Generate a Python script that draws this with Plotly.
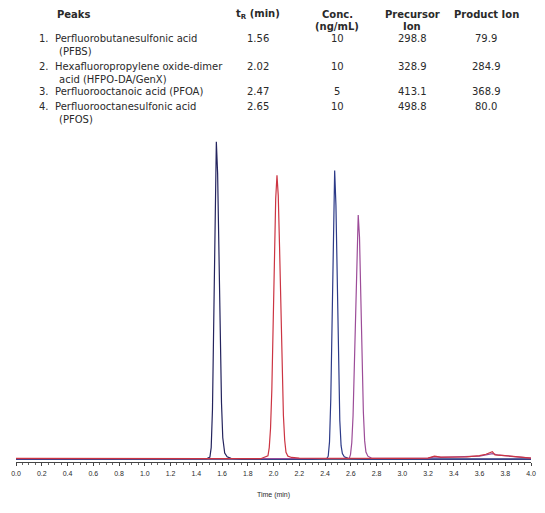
import plotly.graph_objects as go

# table shown above the chromatogram
peak_names = [
    ["Perfluorobutanesulfonic acid", "(PFBS)"],
    ["Hexafluoropropylene oxide-dimer", "acid (HFPO-DA/GenX)"],
    ["Perfluorooctanoic acid (PFOA)"],
    ["Perfluorooctanesulfonic acid", "(PFOS)"],
]
t_r = ["1.56", "2.02", "2.47", "2.65"]
conc = ["10", "10", "5", "10"]
precursor = ["298.8", "328.9", "413.1", "498.8"]
product = ["79.9", "284.9", "368.9", "80.0"]

# chromatogram traces (time in min, response in % of the PFBS apex)
pfbs_t = [0.0, 0.5, 1.0, 1.4, 1.48, 1.506, 1.516, 1.526, 1.536, 1.546, 1.556, 1.566, 1.576,
          1.586, 1.596, 1.606, 1.621, 1.64, 1.67, 1.75, 2.5, 3.0, 3.5, 4.0]
pfbs_i = [0.3, 0.3, 0.3, 0.3, 0.4, 0.9, 3.9, 15.9, 44, 81, 100, 90, 65,
          38, 18, 7, 2.2, 1.0, 0.5, 0.3, 0.3, 0.3, 0.4, 0.3]

genx_t = [0.0, 0.5, 1.0, 1.5, 1.9, 1.957, 1.967, 1.977, 1.987, 1.997, 2.007, 2.017, 2.027,
          2.037, 2.047, 2.057, 2.067, 2.077, 2.087, 2.097, 2.112, 2.14, 2.2, 2.6, 3.0, 3.2,
          3.25, 3.3, 3.5, 3.6, 3.65, 3.7, 3.72, 3.8, 3.85, 4.0]
genx_i = [0.5, 0.4, 0.5, 0.4, 0.4, 1.3, 3.9, 10, 22, 41, 63, 82, 89.5,
          83, 67, 46, 27, 14, 6.2, 2.4, 1.2, 0.8, 0.6, 0.5, 0.5, 0.6,
          1.2, 0.9, 1.0, 1.4, 1.8, 2.6, 1.6, 1.4, 1.2, 0.6]

pfoa_t = [0.0, 0.6, 1.2, 1.8, 2.3, 2.415, 2.425, 2.435, 2.445, 2.455, 2.465, 2.475, 2.485,
          2.495, 2.505, 2.515, 2.525, 2.535, 2.55, 2.58, 2.7, 3.1, 3.5, 4.0]
pfoa_i = [0.2, 0.3, 0.2, 0.3, 0.3, 0.5, 1.2, 5.7, 19.2, 45.5, 76.5, 91, 80,
          55, 29.5, 12.3, 4.5, 2.0, 1.0, 0.5, 0.3, 0.3, 0.4, 0.3]

pfos_t = [0.0, 0.7, 1.3, 1.9, 2.4, 2.588, 2.598, 2.608, 2.618, 2.628, 2.638, 2.648, 2.658,
          2.668, 2.678, 2.688, 2.698, 2.708, 2.718, 2.733, 2.76, 2.9, 3.2, 3.25, 3.3, 3.6,
          3.7, 3.75, 3.85, 4.0]
pfos_i = [0.4, 0.4, 0.5, 0.4, 0.4, 0.5, 1.7, 5.4, 14, 29.6, 50, 69, 77,
          70, 52, 31, 15, 6, 2.5, 1.2, 0.6, 0.5, 0.6, 1.0, 0.8, 1.2,
          2.0, 1.5, 1.2, 0.6]

# the page body has an 8px margin, so the figure is drawn 8px smaller and shifted
OFF = 8
W, H = 545 - OFF, 513 - OFF
ML, MR, MT, MB = 16 - OFF, 14, 130 - OFF, 51
PW, PH = W - ML - MR, H - MT - MB

FONT = "DejaVu Sans"
TXT = "#2a2a2a"


def px(x):
    return (x - OFF - ML) / PW


def py(y):
    return (H - MB - (y - OFF)) / PH


fig = go.Figure()
traces = [
    (pfbs_t, pfbs_i, "#24245e"),
    (pfoa_t, pfoa_i, "#2c3a88"),
    (pfos_t, pfos_i, "#9c4c98"),
    (genx_t, genx_i, "#cc3442"),
]
for t, i, c in traces:
    fig.add_trace(go.Scatter(x=t, y=i, mode="lines", line=dict(color=c, width=1.2),
                             showlegend=False, hoverinfo="skip"))

ann = []


def text(x, y, s, anchor="left", bold=False, size=10):
    ann.append(dict(x=px(x), y=py(y), xref="paper", yref="paper", text=f"<b>{s}</b>" if bold else s,
                    showarrow=False, xanchor=anchor, yanchor="middle",
                    font=dict(family=FONT, size=size, color=TXT)))


# headers
text(55, 15, "Peaks", bold=True)
text(258, 15, "t<sub>R</sub> (min)", "center", bold=True)
text(337, 15, "Conc.", "center", bold=True)
text(337, 27, "(ng/mL)", "center", bold=True)
text(412, 15, "Precursor", "center", bold=True)
text(412, 27, "Ion", "center", bold=True)
text(486, 15, "Product Ion", "center", bold=True)

row_y = [39, 66, 91, 106]
for k, names in enumerate(peak_names):
    y0 = row_y[k]
    text(37, y0, f"{k + 1}.")
    for j, line in enumerate(names):
        text(53 if j == 0 else 57, y0 + 13 * j, line)
    text(258, y0, t_r[k], "center")
    text(337, y0, conc[k], "center")
    text(412, y0, precursor[k], "center")
    text(486, y0, product[k], "center")

fig.update_layout(
    width=W, height=H,
    margin=dict(l=ML, r=MR, t=MT, b=MB),
    paper_bgcolor="white", plot_bgcolor="white",
    annotations=ann,
    xaxis=dict(
        range=[0, 4], dtick=0.2, tick0=0, tickformat=".1f",
        ticks="outside", ticklen=3, tickwidth=1, tickcolor="#444",
        showline=True, linecolor="#444", linewidth=1,
        showgrid=False, zeroline=False,
        tickfont=dict(family="Liberation Sans", size=7, color=TXT),
        ticklabelstandoff=2,
        minor=dict(dtick=0.05, ticks="outside", ticklen=2, tickcolor="#666", showgrid=False),
        title=dict(text="Time (min)", font=dict(family="Liberation Sans", size=7, color=TXT),
                   standoff=15),
        automargin=False,
    ),
    yaxis=dict(range=[-0.63, 103.7], visible=False, showgrid=False, zeroline=False),
)

fig.write_html("out.html")
